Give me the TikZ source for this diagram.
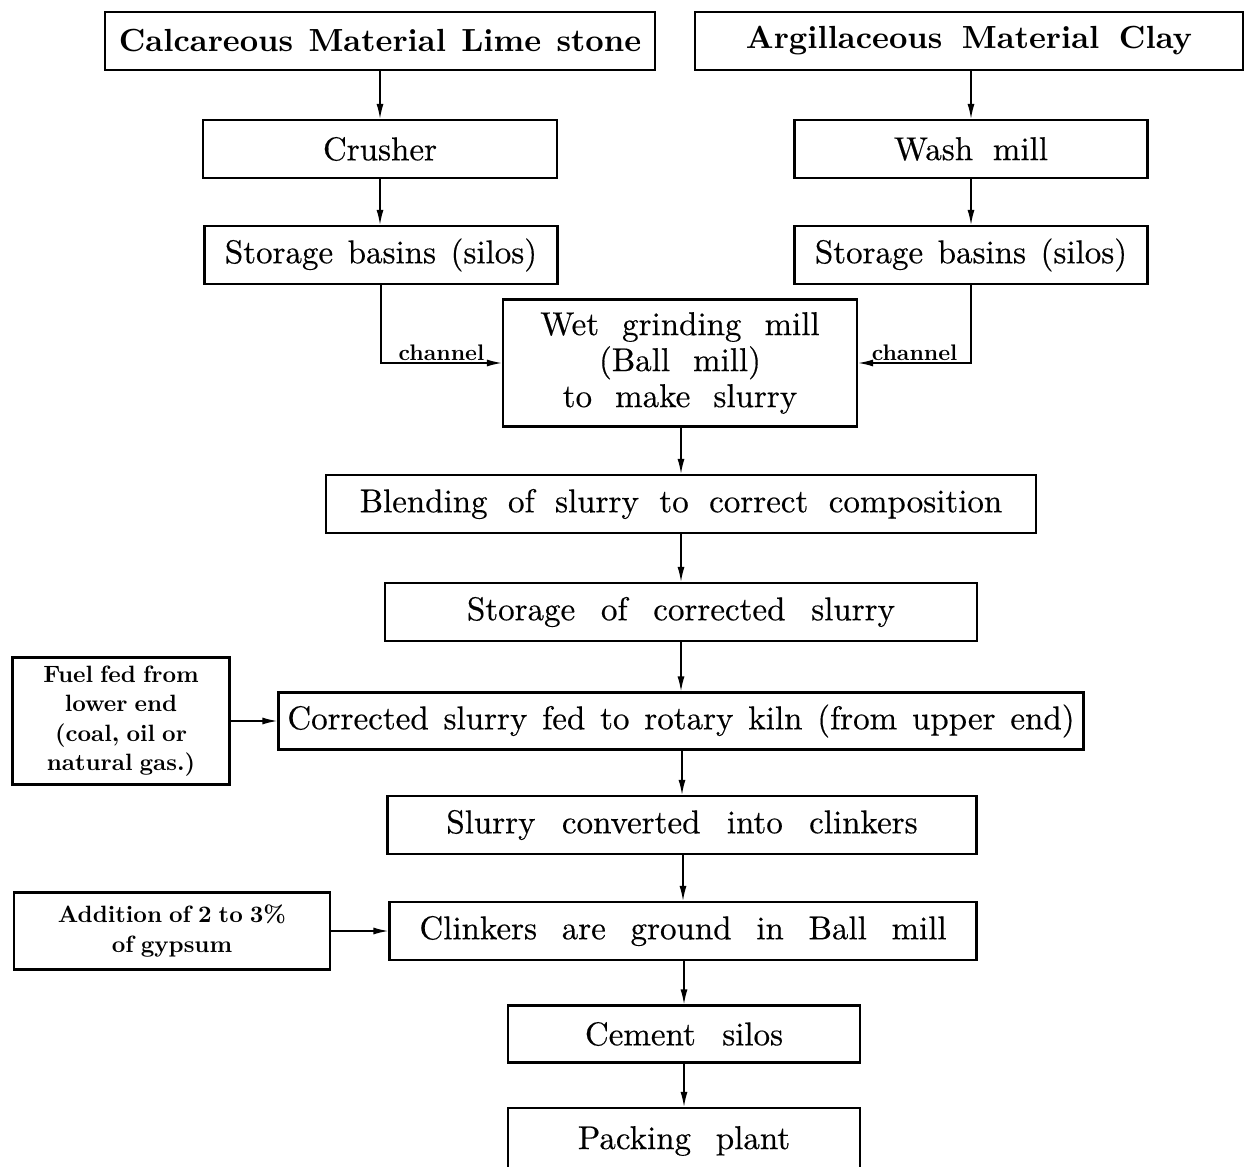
\documentclass[tikz,border=0pt]{standalone}
\usepackage{fontspec}
\usetikzlibrary{arrows.meta}
\newfontfamily\heavy{lmroman10-regular.otf}[FakeBold=0.4]
\newfontfamily\heavyb{lmroman10-bold.otf}
\newcommand\mf[1]{\heavy\fontsize{33}{36}\selectfont\spaceskip=#1em\relax}
\newcommand\tf[1]{\heavyb\fontsize{32}{36}\selectfont\spaceskip=#1em\relax}
\newcommand\smallbf{\heavyb\fontsize{23.6}{29.5}\selectfont\spaceskip=0.3em\relax}
\begin{document}
\begin{tikzpicture}[x=1pt,y=-1pt,
  box/.style={draw, line width=2.1pt, inner sep=0pt, align=center},
  arr/.style={-{Latex[length=15pt,width=7pt]}, line width=1.5pt},
  lbl/.style={font=\heavyb\fontsize{22.5}{24}\selectfont, inner sep=2pt}]
\useasboundingbox (0,0) rectangle (1246,1166);
\clip (0,0) rectangle (1246,1166);

\node[box, minimum width=550, minimum height=58, font={\tf{0.48}}] (calc) at (380,41) {Calcareous Material Lime stone};
\node[box, minimum width=548, minimum height=58, font={\tf{0.61}}] (argi) at (969,41) {Argillaceous Material Clay};
\node[box, minimum width=354, minimum height=58, font={\mf{0.45}}] (crush) at (380,149) {Crusher};
\node[box, minimum width=353, minimum height=58, font={\mf{0.6}}] (wash) at (971,149) {Wash mill};
\node[box, minimum width=353, minimum height=58, font={\mf{0.44}}] (storL) at (381,255) {Storage basins (silos)};
\node[box, minimum width=353, minimum height=58, font={\mf{0.44}}] (storR) at (971,255) {Storage basins (silos)};
\node[box, minimum width=354, minimum height=127, font={\mf{0.7}}] (wet) at (680,363) {Wet grinding mill\\(Ball mill)\\to make slurry};
\node[box, minimum width=710, minimum height=58, font={\mf{0.62}}] (blend) at (681,504) {Blending of slurry to correct composition};
\node[box, minimum width=592, minimum height=58, font={\mf{0.78}}] (scs) at (681,612) {Storage of corrected slurry};
\node[box, minimum width=217, minimum height=127, font=\smallbf] (fuel) at (121,721) {Fuel fed from\\lower end\\(coal, oil or\\natural gas.)};
\node[box, minimum width=805, minimum height=57, font={\mf{0.45}}] (kiln) at (681,721) {Corrected slurry fed to rotary kiln (from upper end)};
\node[box, minimum width=589, minimum height=58, font={\mf{0.8}}] (conv) at (682,825) {Slurry converted into clinkers};
\node[box, minimum width=316, minimum height=77, font=\smallbf] (gyp) at (172,931) {Addition of 2 to 3\%\\of gypsum};
\node[box, minimum width=587, minimum height=58, font={\mf{0.75}}] (grind) at (683,931) {Clinkers are ground in Ball mill};
\node[box, minimum width=352, minimum height=57, font={\mf{0.8}}] (silo) at (684,1034) {Cement silos};
\node[box, minimum width=352, minimum height=66, font={\mf{0.75}}] (pack) at (684,1141) {Packing plant};

\draw[arr] (calc.south) -- (crush.north);
\draw[arr] (wash.north |- argi.south) -- (wash.north);
\draw[arr] (crush.south) -- (storL.north -| crush.south);
\draw[arr] (wash.south) -- (storR.north);
\draw[arr] (storL.south) |- node[lbl, pos=0.75, above] {channel} (wet.west);
\draw[arr] (storR.south) |- node[lbl, pos=0.75, above] {channel} (wet.east);
\draw[arr] (blend.north |- wet.south) -- (blend.north);
\draw[arr] (blend.south) -- (scs.north);
\draw[arr] (scs.south) -- (kiln.north);
\draw[arr] (fuel.east) -- (kiln.west);
\draw[arr] (conv.north |- kiln.south) -- (conv.north);
\draw[arr] (grind.north |- conv.south) -- (grind.north);
\draw[arr] (gyp.east) -- (grind.west);
\draw[arr] (silo.north |- grind.south) -- (silo.north);
\draw[arr] (silo.south) -- (pack.north);
\end{tikzpicture}
\end{document}
